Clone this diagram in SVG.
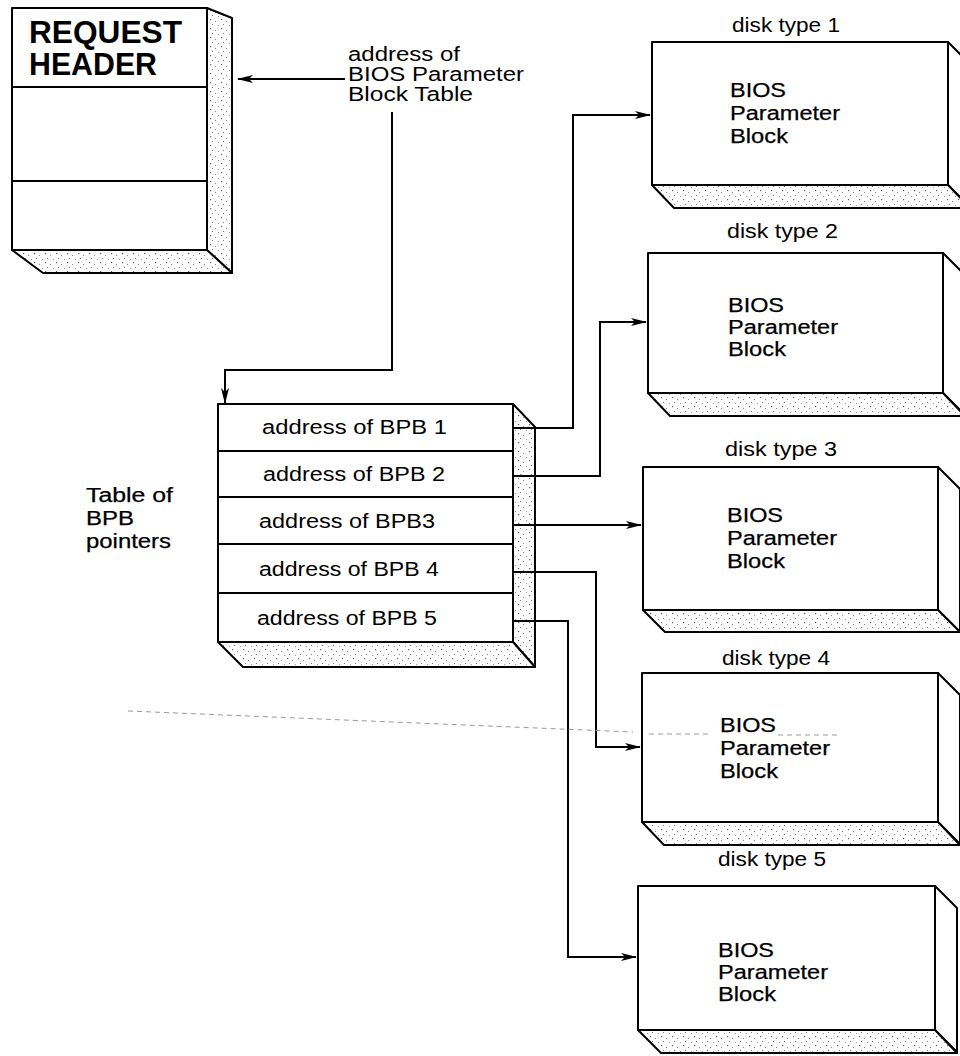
<svg xmlns="http://www.w3.org/2000/svg" width="960" height="1056" viewBox="0 0 960 1056">
<style>
.front{fill:#fff;stroke:#000;stroke-width:2;stroke-linejoin:round}
.face{fill:url(#stip);stroke:#000;stroke-width:2;stroke-linejoin:round}
.wface{fill:#fff;stroke:#000;stroke-width:2;stroke-linejoin:round}
.div{stroke:#000;stroke-width:2}
.t{font-family:"Liberation Sans",Arial,sans-serif;font-size:20px;fill:#000}
.b{stroke:#000;stroke-width:0.25}
.hd{font-family:"Liberation Sans",Arial,sans-serif;font-size:31px;font-weight:bold;fill:#000}
.conn{fill:none;stroke:#000;stroke-width:2}
.art{fill:none;stroke:#999;stroke-width:1;stroke-dasharray:5 4}
</style>
<defs>
<pattern id="stip" width="11" height="9" patternUnits="userSpaceOnUse">
<rect width="11" height="9" fill="#fff"/>
<rect x="1" y="1" width="1.2" height="1.2" fill="#666"/>
<rect x="6" y="3" width="1" height="1" fill="#888"/>
<rect x="3" y="6" width="1" height="1" fill="#777"/>
<rect x="9" y="7" width="1" height="1" fill="#999"/>
</pattern>
<marker id="ah" viewBox="0 0 16 10" refX="15" refY="5" markerWidth="16" markerHeight="10" markerUnits="userSpaceOnUse" orient="auto">
<path d="M0,1 L16,5 L0,9 L4,5 z" fill="#000"/>
</marker>
</defs>
<rect width="960" height="1056" fill="#fff"/>

<g id="request-header">
<polygon class="face" points="207,8 232,18 232,273 207,250"/>
<polygon class="face" points="12,250 207,250 232,273 43,273"/>
<rect class="front" x="12" y="8" width="195" height="242"/>
<line class="div" x1="12" y1="87" x2="207" y2="87"/>
<line class="div" x1="12" y1="181" x2="207" y2="181"/>
<text class="hd" x="29" y="43" textLength="153" lengthAdjust="spacingAndGlyphs">REQUEST</text>
<text class="hd" x="29" y="75" textLength="128" lengthAdjust="spacingAndGlyphs">HEADER</text>
</g>

<g id="label-bpb-table-address">
<text class="t" x="348" y="61" textLength="112" lengthAdjust="spacingAndGlyphs">address of</text>
<text class="t" x="348" y="81" textLength="176" lengthAdjust="spacingAndGlyphs">BIOS Parameter</text>
<text class="t" x="348" y="101" textLength="125" lengthAdjust="spacingAndGlyphs">Block Table</text>
</g>

<g id="bpb-table">
<polygon class="face" points="513,404 535,427 535,667 513,642"/>
<polygon class="face" points="218,642 513,642 535,667 243,667"/>
<rect class="front" x="218" y="404" width="295" height="238"/>
<line class="div" x1="218" y1="451" x2="513" y2="451"/>
<line class="div" x1="218" y1="497" x2="513" y2="497"/>
<line class="div" x1="218" y1="544" x2="513" y2="544"/>
<line class="div" x1="218" y1="593" x2="513" y2="593"/>
<text class="t" x="262" y="434" textLength="185" lengthAdjust="spacingAndGlyphs">address of BPB 1</text>
<text class="t" x="263" y="481" textLength="182" lengthAdjust="spacingAndGlyphs">address of BPB 2</text>
<text class="t" x="259" y="528" textLength="176" lengthAdjust="spacingAndGlyphs">address of BPB3</text>
<text class="t" x="259" y="576" textLength="180" lengthAdjust="spacingAndGlyphs">address of BPB 4</text>
<text class="t" x="257" y="625" textLength="180" lengthAdjust="spacingAndGlyphs">address of BPB 5</text>
</g>

<g id="label-table-of-bpb-pointers">
<text class="t b" x="86" y="502" textLength="87" lengthAdjust="spacingAndGlyphs">Table of</text>
<text class="t b" x="86" y="525" textLength="48" lengthAdjust="spacingAndGlyphs">BPB</text>
<text class="t b" x="86" y="548" textLength="85" lengthAdjust="spacingAndGlyphs">pointers</text>
</g>

<g id="disk1">
<polygon class="wface" points="948,42 970,64 970,207 948,185"/>
<polygon class="face" points="652,185 948,185 970,208 674,208"/>
<rect class="front" x="652" y="42" width="296" height="143"/>
<text class="t" x="732" y="32" textLength="108" lengthAdjust="spacingAndGlyphs">disk type 1</text>
<text class="t b" x="730" y="97" textLength="56" lengthAdjust="spacingAndGlyphs">BIOS</text>
<text class="t b" x="730" y="120" textLength="110" lengthAdjust="spacingAndGlyphs">Parameter</text>
<text class="t b" x="730" y="143" textLength="58" lengthAdjust="spacingAndGlyphs">Block</text>
</g>

<g id="disk2">
<polygon class="wface" points="943,253 965,275 965,415 943,393"/>
<polygon class="face" points="648,393 943,393 965,416 670,416"/>
<rect class="front" x="648" y="253" width="295" height="140"/>
<text class="t" x="727" y="238" textLength="111" lengthAdjust="spacingAndGlyphs">disk type 2</text>
<text class="t b" x="728" y="312" textLength="56" lengthAdjust="spacingAndGlyphs">BIOS</text>
<text class="t b" x="728" y="334" textLength="110" lengthAdjust="spacingAndGlyphs">Parameter</text>
<text class="t b" x="728" y="356" textLength="58" lengthAdjust="spacingAndGlyphs">Block</text>
</g>

<g id="disk3">
<polygon class="wface" points="938,467 960,489 960,632 938,610"/>
<polygon class="face" points="643,610 938,610 960,632 665,632"/>
<rect class="front" x="643" y="467" width="295" height="143"/>
<text class="t" x="725" y="456" textLength="112" lengthAdjust="spacingAndGlyphs">disk type 3</text>
<text class="t b" x="727" y="522" textLength="56" lengthAdjust="spacingAndGlyphs">BIOS</text>
<text class="t b" x="727" y="545" textLength="110" lengthAdjust="spacingAndGlyphs">Parameter</text>
<text class="t b" x="727" y="568" textLength="58" lengthAdjust="spacingAndGlyphs">Block</text>
</g>

<g id="disk4">
<polygon class="wface" points="938,673 960,695 960,844 938,822"/>
<polygon class="face" points="642,822 938,822 960,845 664,845"/>
<rect class="front" x="642" y="673" width="296" height="149"/>
<text class="t" x="722" y="665" textLength="108" lengthAdjust="spacingAndGlyphs">disk type 4</text>
<text class="t b" x="720" y="732" textLength="56" lengthAdjust="spacingAndGlyphs">BIOS</text>
<text class="t b" x="720" y="755" textLength="110" lengthAdjust="spacingAndGlyphs">Parameter</text>
<text class="t b" x="720" y="778" textLength="58" lengthAdjust="spacingAndGlyphs">Block</text>
</g>

<g id="disk5">
<polygon class="wface" points="935,886 957,908 957,1052 935,1030"/>
<polygon class="face" points="638,1030 935,1030 957,1053 661,1053"/>
<rect class="front" x="638" y="886" width="297" height="144"/>
<text class="t" x="718" y="866" textLength="108" lengthAdjust="spacingAndGlyphs">disk type 5</text>
<text class="t b" x="718" y="957" textLength="56" lengthAdjust="spacingAndGlyphs">BIOS</text>
<text class="t b" x="718" y="979" textLength="110" lengthAdjust="spacingAndGlyphs">Parameter</text>
<text class="t b" x="718" y="1001" textLength="58" lengthAdjust="spacingAndGlyphs">Block</text>
</g>

<g id="connectors">
<path class="conn" d="M345,79 H238" marker-end="url(#ah)"/>
<path class="conn" d="M392,112 V370 H225 V403" marker-end="url(#ah)"/>
<path class="conn" d="M513,428 H573 V115 H650" marker-end="url(#ah)"/>
<path class="conn" d="M513,476 H600 V322 H646" marker-end="url(#ah)"/>
<path class="conn" d="M513,525 H641" marker-end="url(#ah)"/>
<path class="conn" d="M513,572 H596 V747 H640" marker-end="url(#ah)"/>
<path class="conn" d="M513,621 H568 V957 H636" marker-end="url(#ah)"/>
</g>

<path class="art" d="M128,711 L633,732 M649,734 H712 M778,735 H840"/>
</svg>
